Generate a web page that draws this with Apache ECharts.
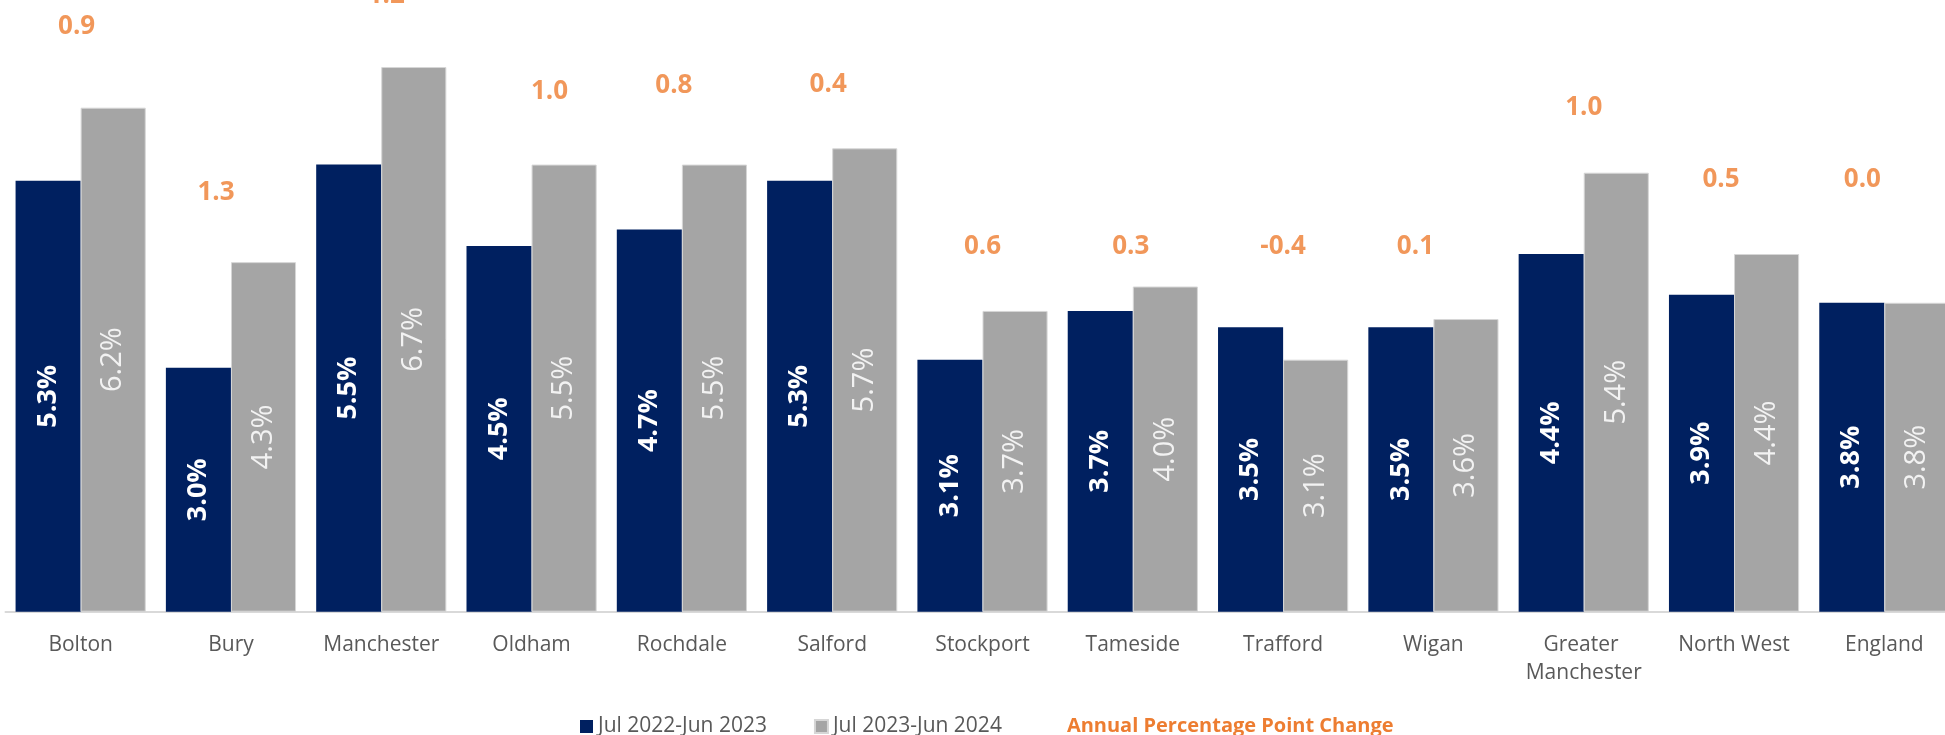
<!DOCTYPE html>
<html>
<head>
<meta charset="utf-8">
<title>Unemployment rate by area</title>
<script src="https://cdn.jsdelivr.net/npm/echarts@6/dist/echarts.min.js"></script>
<style>
  html, body { margin: 0; padding: 0; background: #ffffff; }
  #chart { width: 1945px; height: 735px; }
</style>
</head>
<body>
<div id="chart"></div>
<script>
// Areas along the category axis
const categories = [
  'Bolton', 'Bury', 'Manchester', 'Oldham', 'Rochdale', 'Salford', 'Stockport',
  'Tameside', 'Trafford', 'Wigan', 'Greater Manchester', 'North West', 'England'
];

// Rates (%) for each period
const rate2223 = [5.3, 3.0, 5.5, 4.5, 4.7, 5.3, 3.1, 3.7, 3.5, 3.5, 4.4, 3.9, 3.8];
const rate2324 = [6.2, 4.3, 6.7, 5.5, 5.5, 5.7, 3.7, 4.0, 3.1, 3.6, 5.4, 4.4, 3.8];

// Annual percentage point change
const ppChange = [0.9, 1.3, 1.2, 1.0, 0.8, 0.4, 0.6, 0.3, -0.4, 0.1, 1.0, 0.5, 0.0];

// Height (axis units) at which each change value is written
const changeLevel = [7.2, 5.16, 7.58, 6.4, 6.47, 6.48, 4.49, 4.49, 4.49, 4.49, 6.2, 5.32, 5.32];

// Series names
const seriesNames = ['Jul 2022-Jun 2023', 'Jul 2023-Jun 2024', 'Annual Percentage Point Change'];

// Small horizontal nudges (px) for the change labels
const changeNudge = [-4, -15, 5, 18, -8, -4, 0, -2, 0, -18, 0, -13, -22];

const FONT = "'Open Sans', 'Noto Sans', sans-serif";
const NAVY = '#002060';
const GREY = '#A5A5A5';
const ORANGE = '#ED7D31';

const chart = echarts.init(document.getElementById('chart'), null, { renderer: 'canvas' });

const option = {
  animation: false,
  backgroundColor: '#ffffff',
  textStyle: { fontFamily: FONT },
  grid: {
    left: 5.5,
    width: 1954,
    top: 2,
    bottom: 123.3,
    containLabel: false,
    outerBoundsMode: 'none'
  },
  legend: {
    left: 575,
    top: 711,
    itemWidth: 13,
    itemHeight: 13,
    itemGap: 47,
    textStyle: { fontFamily: FONT, fontSize: 21, color: '#595959' },
    data: [
      { name: seriesNames[0], icon: 'rect' },
      { name: seriesNames[1], icon: 'rect' },
      { name: seriesNames[2], icon: 'none',
        textStyle: { color: ORANGE, fontWeight: 'bold', fontSize: 20, fontFamily: FONT } }
    ],
    selectedMode: false
  },
  xAxis: {
    type: 'category',
    data: categories,
    axisLine: { show: true, lineStyle: { color: '#D9D9D9', width: 2 } },
    axisTick: { show: false },
    axisLabel: {
      interval: 0,
      margin: 19,
      color: '#595959',
      fontFamily: FONT,
      fontSize: 21,
      lineHeight: 28,
      width: 140,
      overflow: 'break'
    },
    splitLine: { show: false }
  },
  yAxis: {
    type: 'value',
    min: 0,
    max: 7.5,
    show: false,
    splitLine: { show: false }
  },
  series: [
    {
      name: seriesNames[0],
      type: 'bar',
      data: rate2223,
      barGap: '0%',
      barCategoryGap: '13.4%',
      itemStyle: { color: NAVY },
      label: {
        show: true,
        position: 'inside',
        rotate: 90,
        color: '#ffffff',
        fontFamily: FONT,
        fontWeight: 'bold',
        fontSize: 27,
        formatter: p => p.value.toFixed(1) + '%'
      }
    },
    {
      name: seriesNames[1],
      type: 'bar',
      data: rate2324,
      barGap: '0%',
      barCategoryGap: '13.4%',
      itemStyle: { color: GREY, borderColor: '#D6D6D6', borderWidth: 1 },
      label: {
        show: true,
        position: 'inside',
        rotate: 90,
        color: '#F2F2F2',
        fontFamily: FONT,
        fontWeight: 'normal',
        fontSize: 29,
        formatter: p => p.value.toFixed(1) + '%'
      }
    },
    {
      name: seriesNames[2],
      type: 'scatter',
      clip: false,
      symbolSize: 1,
      itemStyle: { color: 'rgba(0,0,0,0)' },
      data: ppChange.map((v, i) => ({
        value: [i, changeLevel[i]],
        change: v,
        label: { offset: [changeNudge[i], 0] }
      })),
      label: {
        show: true,
        position: 'inside',
        color: ORANGE,
        fontFamily: FONT,
        fontWeight: 'bold',
        fontSize: 26,
        formatter: p => p.data.change.toFixed(1)
      },
      z: 5
    }
  ]
};

chart.setOption(option);
</script>
</body>
</html>
